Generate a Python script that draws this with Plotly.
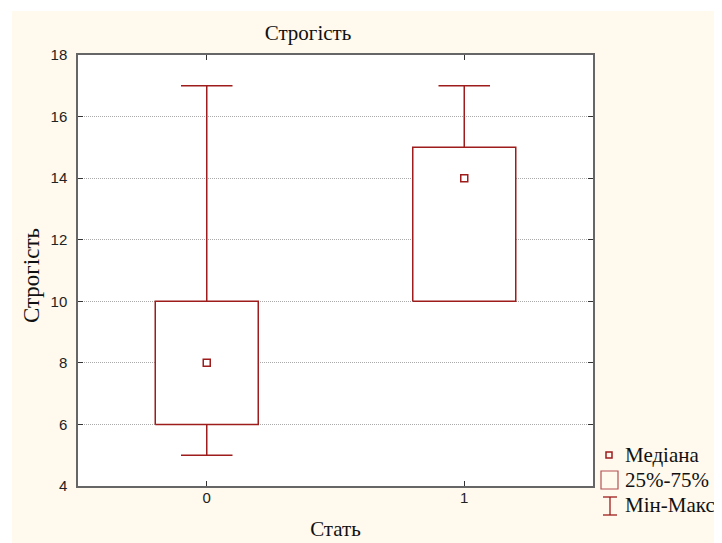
import plotly.graph_objects as go

# ---- data ----
categories = [0, 1]
mins = [5, 10]
q1s = [6, 10]
medians = [8, 14]
q3s = [10, 15]
maxs = [17, 17]
y_ticks = [4, 6, 8, 10, 12, 14, 16, 18]

RED = "#9E1C1C"
BOX_HW = 0.2
CAP_HW = 0.1

fig = go.Figure()

for c, mn, a, md, b, mx in zip(categories, mins, q1s, medians, q3s, maxs):
    fig.add_trace(go.Scatter(
        x=[c, c, None, c, c], y=[b, mx, None, a, mn], mode="lines",
        line=dict(color=RED, width=1.5), showlegend=False, hoverinfo="skip"))
    fig.add_trace(go.Scatter(
        x=[c - CAP_HW, c + CAP_HW, None, c - CAP_HW, c + CAP_HW],
        y=[mx, mx, None, mn, mn], mode="lines",
        line=dict(color=RED, width=1.5), showlegend=False, hoverinfo="skip"))
    fig.add_trace(go.Scatter(
        x=[c - BOX_HW, c + BOX_HW, c + BOX_HW, c - BOX_HW, c - BOX_HW],
        y=[a, a, b, b, a], mode="lines", fill="toself", fillcolor="white",
        line=dict(color=RED, width=1.5), showlegend=False, hoverinfo="skip"))
    fig.add_trace(go.Scatter(
        x=[c], y=[md], mode="markers",
        marker=dict(symbol="square-open", size=7, color=RED, line=dict(width=1.5)),
        showlegend=False, hoverinfo="skip"))

# page offset of the figure (body margin)
OX, OY = 8, 8
FW, FH = 722 - OX, 543 - OY
# plot area in page pixels
L, R, T, B = 78, 593, 55, 486
W, H = R - L, B - T

def px(x):
    return (x - L) / W

def py(y):
    return (B - y) / H

shapes = [
    dict(type="rect", xref="paper", yref="paper", x0=px(0), x1=px(722), y0=py(11), y1=py(0),
         fillcolor="white", line=dict(width=0), layer="below"),
    dict(type="rect", xref="paper", yref="paper", x0=px(0), x1=px(12), y0=py(543), y1=py(0),
         fillcolor="white", line=dict(width=0), layer="below"),
    dict(type="rect", xref="paper", yref="paper", x0=px(606), x1=px(612), y0=py(458), y1=py(452),
         fillcolor="rgba(0,0,0,0)", line=dict(color=RED, width=1.5)),
    dict(type="rect", xref="paper", yref="paper", x0=px(601), x1=px(618), y0=py(489), y1=py(471),
         fillcolor="rgba(0,0,0,0)", line=dict(color="#B45050", width=1.2)),
    dict(type="line", xref="paper", yref="paper", x0=px(610), x1=px(610), y0=py(515), y1=py(497),
         line=dict(color=RED, width=1.3)),
    dict(type="line", xref="paper", yref="paper", x0=px(603), x1=px(617), y0=py(497), y1=py(497),
         line=dict(color=RED, width=1.3)),
    dict(type="line", xref="paper", yref="paper", x0=px(603), x1=px(617), y0=py(515), y1=py(515),
         line=dict(color=RED, width=1.3)),
]

legend_labels = ["Медіана", "25%-75%", "Мін-Макс"]
legend_y = [455, 480, 505]
annotations = [
    dict(text=t, xref="paper", yref="paper", x=px(623), y=py(yy), xanchor="left", yanchor="middle",
         showarrow=False, font=dict(family="Liberation Serif", size=21, color="#111"))
    for t, yy in zip(legend_labels, legend_y)
]
# y-axis title
annotations.append(dict(
    text="Строгість", xref="paper", yref="paper", x=px(31), y=py(276), xanchor="center",
    yanchor="middle", textangle=-90, showarrow=False,
    font=dict(family="Liberation Serif", size=23, color="#111")))

fig.update_layout(
    width=FW, height=FH,
    margin=dict(l=L - OX, r=722 - R, t=T - OY, b=543 - B, autoexpand=False),
    paper_bgcolor="#FFF9EE", plot_bgcolor="white",
    title=dict(text="Строгість", xref="paper", x=px(308), xanchor="center",
               yref="container", y=1 - (33 - OY) / FH, yanchor="middle",
               font=dict(family="Liberation Serif", size=21, color="#111")),
    shapes=shapes, annotations=annotations, showlegend=False,
)
fig.update_xaxes(
    range=[-0.5, 1.5], tickvals=categories, ticktext=[str(c) for c in categories],
    ticks="inside", ticklen=5, tickcolor="#333", showgrid=False, zeroline=False,
    showline=True, linecolor="#666", linewidth=1.5, mirror="ticks", automargin=False,
    ticklabelstandoff=-3,
    tickfont=dict(family="Liberation Sans", size=15, color="#222"),
    title=dict(text="Стать", standoff=17, font=dict(family="Liberation Serif", size=21, color="#111")),
)
fig.update_yaxes(
    range=[4, 18], tickvals=y_ticks, ticks="inside", ticklen=5, tickcolor="#333",
    showgrid=True, gridcolor="#AAAAAA", griddash="1px,1px", gridwidth=1, zeroline=False,
    showline=True, linecolor="#666", linewidth=1.5, mirror="ticks", automargin=False,
    ticklabelstandoff=6,
    tickfont=dict(family="Liberation Sans", size=15, color="#222"),
)

fig.write_html("out.html")
